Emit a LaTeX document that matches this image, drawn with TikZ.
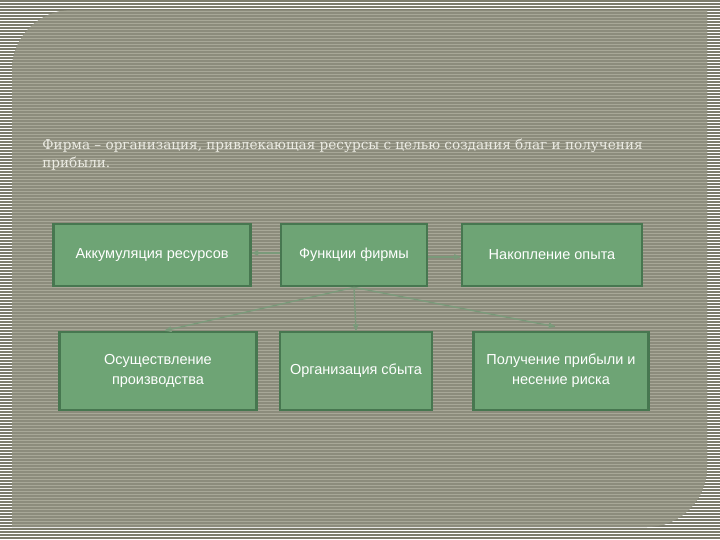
\documentclass[tikz,border=0pt]{standalone}
\usepackage{fontspec}
\setmainfont{DejaVu Serif}
\newfontfamily\boxfont{Liberation Sans}
\usetikzlibrary{arrows,calc,positioning}

\definecolor{stripedark}{HTML}{7C7C6C}
\definecolor{panelbase}{HTML}{8C8C7C}
\definecolor{panellight}{HTML}{A8A898}
\definecolor{boxfill}{HTML}{6EA475}
\definecolor{boxline}{HTML}{477750}
\definecolor{linkcol}{HTML}{7A9A7A}
\definecolor{titlecol}{HTML}{ECECE4}

\begin{document}
\begin{tikzpicture}[x=1pt,y=-1pt,thick,->,>=stealth']
    \tikzstyle{box}=[rectangle, draw=boxline, line width=2.8pt, fill=boxfill,
      text=white, font=\boxfont\fontsize{14.5}{20}\selectfont, align=center,
      inner sep=2pt]
    \tikzstyle{link}=[draw=linkcol, line width=1.3pt]

    % striped page
    \useasboundingbox (0,0) rectangle (720,540);
    \fill[white] (0,0) rectangle (720,540);
    \foreach \i in {0,...,179}
      \draw[-,stripedark,line width=1.6pt] (0,3*\i+1) -- (720,3*\i+1);

    % panel
    \fill[panelbase] (12,527) -- (12,70) .. controls (12,37) and (39,10) .. (72,10)
      -- (707,10) -- (707,467) .. controls (707,500) and (680,527) .. (647,527) -- cycle;
    \begin{scope}
      \clip (12,527) -- (12,70) .. controls (12,37) and (39,10) .. (72,10)
        -- (707,10) -- (707,467) .. controls (707,500) and (680,527) .. (647,527) -- cycle;
      \foreach \i in {0,...,179}
        \draw[-,panellight,line width=1.2pt] (0,3*\i+2.5) -- (720,3*\i+2.5);
    \end{scope}

    % definition
    \node[anchor=base west, text=titlecol, font=\fontsize{13.6}{18}\selectfont,
      align=left, inner sep=0pt] (def) at (42,168)
      {Фирма – организация, привлекающая ресурсы с целью создания благ и получения\\прибыли.};

    % top row
    \node[box, minimum width=197pt, minimum height=62pt] (akk)   at (152,255) {Аккумуляция ресурсов};
    \node[box, minimum width=146pt, minimum height=62pt] (func)  at (354,255) {Функции фирмы};
    \node[box, minimum width=180pt, minimum height=62pt] (nakop) at (552,255) {Накопление опыта};

    % bottom row
    \node[box, minimum width=197pt, minimum height=78pt] (osush) at (158,371) {Осуществление\\производства};
    \node[box, minimum width=152pt, minimum height=78pt] (org)   at (356,371) {Организация сбыта};
    \node[box, minimum width=175pt, minimum height=78pt] (pol)   at (561,371) {Получение прибыли и\\несение риска};

    \draw[link] (func.west |- 0,253) -- (akk.east |- 0,253);
    \draw[link] (func.east |- 0,257) -- (nakop.west |- 0,257);
    \draw[link] (func.south) -- ($(osush.north)+(7,0)$);
    \draw[link] (func.south) -- (org.north);
    \draw[link] (func.south) -- ($(pol.north)+(-6,-4)$);

\end{tikzpicture}
\end{document}
